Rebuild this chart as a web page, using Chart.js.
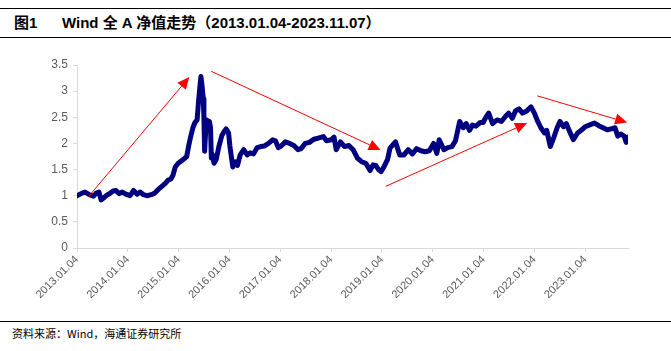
<!DOCTYPE html>
<html>
<head>
<meta charset="utf-8">
<script src="https://cdn.jsdelivr.net/npm/chart.js@4.4.0/dist/chart.umd.min.js"></script>
<style>
  body { margin:0; background:#fff; width:671px; height:351px; position:relative; overflow:hidden; }
  #title { position:absolute; left:0; top:8px; width:671px; height:28px; border-top:1px solid #000; border-bottom:1px solid #000;
           font-family:"Liberation Sans","Noto Sans CJK SC",sans-serif; font-weight:bold; font-size:15px; line-height:28px; color:#000; }
  #title .no { position:absolute; left:14px; }
  #title .txt { position:absolute; left:62px; }
  #src { position:absolute; left:0; top:321px; width:671px; border-top:1px solid #000;
         font-family:"Noto Sans CJK SC",sans-serif; font-size:11px; line-height:22px; color:#000; padding-left:12px; box-sizing:border-box; }
  #wrap { position:absolute; left:0; top:40px; width:671px; height:280px; }
</style>
</head>
<body>
<div id="title"><span class="no">图1</span><span class="txt">Wind 全 A 净值走势（2013.01.04-2023.11.07）</span></div>
<div id="wrap"><canvas id="c"></canvas></div>
<div id="src">资料来源：Wind，海通证券研究所</div>
<script>
// tick labels on x axis
const tickLabels = ['2013.01.04','2014.01.04','2015.01.04','2016.01.04','2017.01.04','2018.01.04',
  '2019.01.04','2020.01.04','2021.01.04','2022.01.04','2023.01.04'];
const yTicks = [0, 0.5, 1, 1.5, 2, 2.5, 3, 3.5];

const dates = [
 '2013.01.04','2013.02.10','2013.03.01','2013.04.01','2013.05.01','2013.05.20','2013.06.10','2013.06.25','2013.07.10','2013.08.01',
 '2013.08.25','2013.09.20','2013.10.10','2013.11.01','2013.11.25','2013.12.20','2014.01.20','2014.02.15','2014.03.10','2014.04.01',
 '2014.04.25','2014.05.20','2014.06.20','2014.07.15','2014.08.10','2014.09.05','2014.10.01','2014.10.20','2014.11.10','2014.11.25',
 '2014.12.10','2014.12.31','2015.01.20','2015.02.10','2015.03.01','2015.03.15','2015.04.01','2015.04.15','2015.04.30','2015.05.15',
 '2015.05.25','2015.06.05','2015.06.12','2015.06.20','2015.06.29','2015.07.03','2015.07.08','2015.07.15','2015.07.24','2015.08.05',
 '2015.08.12','2015.08.20','2015.08.26','2015.09.01','2015.09.15','2015.10.01','2015.10.20','2015.11.10','2015.11.25','2015.12.10',
 '2015.12.28','2016.01.07','2016.01.20','2016.01.28','2016.02.15','2016.03.01','2016.03.20','2016.04.15','2016.05.10','2016.06.01',
 '2016.06.25','2016.07.20','2016.08.15','2016.09.10','2016.10.10','2016.11.10','2016.11.30','2016.12.20','2017.01.10','2017.02.10',
 '2017.03.10','2017.04.10','2017.05.10','2017.06.01','2017.07.01','2017.08.01','2017.09.01','2017.10.01','2017.11.10','2017.12.01',
 '2018.01.05','2018.01.25','2018.02.10','2018.03.10','2018.04.10','2018.05.10','2018.06.10','2018.07.10','2018.08.10','2018.09.10',
 '2018.10.10','2018.11.01','2018.11.20','2018.12.10','2018.12.28','2019.01.20','2019.02.15','2019.03.01','2019.04.10','2019.05.10',
 '2019.06.10','2019.07.10','2019.08.10','2019.09.10','2019.10.10','2019.11.10','2019.12.10','2020.01.10','2020.02.03','2020.02.20',
 '2020.03.23','2020.04.20','2020.05.20','2020.06.15','2020.07.05','2020.07.15','2020.08.10','2020.09.01','2020.09.25','2020.10.15',
 '2020.11.10','2020.12.10','2020.12.31','2021.01.20','2021.02.10','2021.03.08','2021.04.10','2021.05.10','2021.06.10','2021.07.01',
 '2021.07.28','2021.08.20','2021.09.15','2021.10.10','2021.11.10','2021.12.10','2022.01.04','2022.01.28','2022.02.20','2022.03.15',
 '2022.04.01','2022.04.27','2022.05.20','2022.06.15','2022.07.05','2022.08.01','2022.08.20','2022.09.10','2022.10.10','2022.11.10',
 '2022.12.10','2023.01.04','2023.02.10','2023.03.10','2023.04.10','2023.05.10','2023.06.10','2023.07.10','2023.08.05','2023.08.25',
 '2023.09.15','2023.10.10','2023.10.24','2023.11.07'
];
const netValue = [
 1.00,1.05,1.07,1.02,0.99,1.05,1.07,0.92,0.95,1.00,
 1.04,1.09,1.10,1.04,1.07,1.03,1.00,1.10,1.03,1.07,
 1.02,1.00,1.02,1.05,1.12,1.18,1.24,1.30,1.32,1.40,
 1.55,1.62,1.66,1.70,1.75,1.95,2.15,2.30,2.40,2.45,
 2.80,3.10,3.28,3.10,2.85,2.50,1.85,2.20,2.45,2.38,
 2.42,2.30,1.72,1.80,1.62,1.70,1.95,2.15,2.22,2.28,
 2.20,1.95,1.70,1.55,1.65,1.58,1.78,1.88,1.78,1.82,
 1.80,1.92,1.94,1.95,2.00,2.07,2.05,1.92,1.95,2.03,
 2.00,1.96,1.88,1.90,2.00,2.02,2.08,2.10,2.13,2.05,
 2.07,2.12,1.88,2.03,1.94,1.96,1.88,1.72,1.65,1.62,
 1.48,1.59,1.58,1.50,1.46,1.56,1.70,1.91,2.03,1.78,
 1.78,1.88,1.80,1.90,1.86,1.84,1.86,2.00,1.81,2.07,
 1.88,1.92,1.94,2.05,2.30,2.42,2.30,2.38,2.25,2.35,
 2.33,2.40,2.40,2.50,2.58,2.38,2.45,2.42,2.52,2.58,
 2.48,2.62,2.66,2.58,2.62,2.70,2.58,2.42,2.30,2.20,
 2.25,1.94,2.10,2.30,2.42,2.32,2.38,2.25,2.07,2.20,
 2.26,2.32,2.36,2.39,2.34,2.30,2.26,2.28,2.30,2.14,
 2.18,2.14,2.02,2.12
];

// red trend arrows: [fromDate, fromValue, toDate, toValue]
const arrows = [
  ['2013.03.25', 0.98, '2015.03.20', 3.27],
  ['2015.08.25', 3.38, '2018.12.25', 1.875],
  ['2019.02.01', 1.18, '2021.11.12', 2.39],
  ['2022.01.25', 2.91, '2023.11.01', 2.40]
];

function toYears(d) {
  const p = d.split('.').map(Number);
  return (p[0] - 2013) + (p[1] - 1) / 12 + (p[2] - 4) / 365;
}

const points = dates.map((d, i) => ({ x: toYears(d), y: netValue[i] }));

const arrowPlugin = {
  id: 'arrows',
  afterDatasetsDraw(chart) {
    const ctx = chart.ctx, xs = chart.scales.x, ys = chart.scales.y;
    ctx.save();
    ctx.strokeStyle = '#ff0000';
    ctx.fillStyle = '#ff0000';
    ctx.lineWidth = 1;
    arrows.forEach(a => {
      const x1 = xs.getPixelForValue(toYears(a[0])), y1 = ys.getPixelForValue(a[1]);
      const x2 = xs.getPixelForValue(toYears(a[2])), y2 = ys.getPixelForValue(a[3]);
      const ang = Math.atan2(y2 - y1, x2 - x1);
      const len = 12, half = 5.5;
      const bx = x2 - len * Math.cos(ang), by = y2 - len * Math.sin(ang);
      ctx.beginPath();
      ctx.moveTo(x1, y1);
      ctx.lineTo(bx, by);
      ctx.stroke();
      ctx.beginPath();
      ctx.moveTo(x2, y2);
      ctx.lineTo(bx + half * Math.sin(ang), by - half * Math.cos(ang));
      ctx.lineTo(bx - half * Math.sin(ang), by + half * Math.cos(ang));
      ctx.closePath();
      ctx.fill();
    });
    ctx.restore();
  }
};

new Chart(document.getElementById('c').getContext('2d'), {
  type: 'line',
  data: {
    datasets: [{
      label: 'Wind全A',
      data: points,
      borderColor: '#000080',
      borderWidth: 5,
      pointRadius: 0,
      tension: 0,
      borderJoinStyle: 'round',
      borderCapStyle: 'round'
    }]
  },
  options: {
    responsive: true,
    maintainAspectRatio: false,
    animation: false,
    layout: { padding: { top: 25, right: 43, left: 0, bottom: 0 } },
    plugins: { legend: { display: false }, tooltip: { enabled: false } },
    scales: {
      x: {
        type: 'linear',
        min: 0,
        max: toYears('2023.11.07'),
        afterBuildTicks: s => { s.ticks = tickLabels.map((t, i) => ({ value: i })); },
        afterFit: s => { s.height = 72; },
        grid: { drawOnChartArea: false, drawTicks: true, tickLength: 4, color: '#d9d9d9' },
        border: { color: '#d9d9d9' },
        ticks: {
          minRotation: 45, maxRotation: 45, autoSkip: false, padding: 1,
          color: '#595959', font: { family: 'Liberation Sans', size: 11 },
          callback: (v, i) => tickLabels[i]
        }
      },
      y: {
        min: 0, max: 3.5,
        afterBuildTicks: s => { s.ticks = yTicks.map(v => ({ value: v })); },
        afterFit: s => { s.width = 77; },
        grid: { drawOnChartArea: false, drawTicks: true, tickLength: 4, color: '#d9d9d9' },
        border: { color: '#d9d9d9' },
        ticks: {
          color: '#595959', padding: 5, font: { family: 'Liberation Sans', size: 12 },
          callback: v => String(v)
        }
      }
    }
  },
  plugins: [arrowPlugin]
});
</script>
</body>
</html>
